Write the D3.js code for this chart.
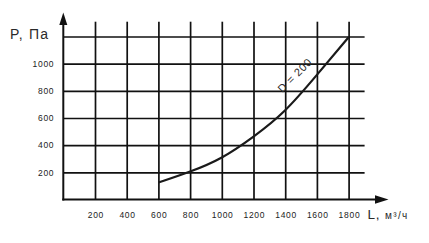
<!DOCTYPE html>
<html>
<head>
<meta charset="utf-8">
<script src="https://cdn.jsdelivr.net/npm/d3@7.9.0/dist/d3.min.js"></script>
<style>
  html, body { margin: 0; padding: 0; background: #fff; }
  svg { display: block; }
  .tick text { font-family: "Liberation Sans", Arial, sans-serif; font-size: 8.5px; fill: #222; letter-spacing: 0.7px; }
  .tick line { stroke: #111; stroke-width: 1.7; }
  .title { font-family: "Liberation Sans", Arial, sans-serif; fill: #2a2a2a; }
</style>
</head>
<body>
<svg id="chart" width="429" height="243"></svg>
<script>
// air flow L, m3/h  ->  pressure P, Pa  (D = 200 duct)
const flow = [600, 800, 1000, 1200, 1400, 1600, 1800];
const pressure = [125, 203, 299, 460, 642, 917, 1195];
const xTicks = [200, 400, 600, 800, 1000, 1200, 1400, 1600, 1800];
const yTicks = [200, 400, 600, 800, 1000, 1200];
const yLabels = [200, 400, 600, 800, 1000];

const svg = d3.select('#chart');

const x = d3.scaleLinear().domain([0, 1800]).range([63.3, 348.6]);
const y = d3.scaleLinear().domain([0, 1200]).range([199.5, 36.5]);

const gridTop = 21.7;
const gridRight = x(1800) + 16;

const xAxis = svg.append('g')
  .attr('transform', `translate(0,${y(0)})`)
  .call(d3.axisBottom(x)
    .tickValues(xTicks)
    .tickSize(-(y(0) - gridTop))
    .tickPadding(12)
    .tickFormat(d3.format('d')));

const yAxis = svg.append('g')
  .attr('transform', `translate(${x(0)},0)`)
  .call(d3.axisLeft(y)
    .tickValues(yTicks)
    .tickSize(-(gridRight - x(0)))
    .tickPadding(9)
    .tickFormat((d) => (yLabels.includes(d) ? String(d) : '')));

xAxis.select('.domain').remove();
yAxis.select('.domain').remove();
xAxis.selectAll('.tick text').attr('dx', '0.35px');

// axes with arrows
svg.append('line')
  .attr('x1', x(0)).attr('x2', x(0))
  .attr('y1', y(0) + 1).attr('y2', 20)
  .attr('stroke', '#111').attr('stroke-width', 2);
svg.append('path')
  .attr('d', `M${x(0)},12.5 L${x(0) - 4},25 L${x(0) + 4},25 Z`)
  .attr('fill', '#111');

svg.append('line')
  .attr('x1', x(0) - 1).attr('x2', 380)
  .attr('y1', y(0)).attr('y2', y(0))
  .attr('stroke', '#111').attr('stroke-width', 2);
svg.append('path')
  .attr('d', `M388.5,${y(0)} L375,${y(0) - 4.2} L375,${y(0) + 4.2} Z`)
  .attr('fill', '#111');

// curve
const line = d3.line()
  .x((d, i) => x(flow[i]))
  .y((d) => y(d))
  .curve(d3.curveBasis);

svg.append('path')
  .datum(pressure)
  .attr('d', line)
  .attr('fill', 'none')
  .attr('stroke', '#1a1a1a')
  .attr('stroke-width', 2.2);

svg.append('text')
  .attr('class', 'title')
  .attr('transform', 'translate(297.5,78) rotate(-45)')
  .attr('text-anchor', 'middle')
  .attr('font-size', 11)
  .attr('letter-spacing', 0.6)
  .attr('fill', '#2d3b3b')
  .text('D = 200');

// axis titles
svg.append('text')
  .attr('class', 'title')
  .attr('x', 10).attr('y', 39)
  .attr('font-size', 14)
  .attr('letter-spacing', 1.2)
  .text('P, Па');

const lTitle = svg.append('text')
  .attr('class', 'title')
  .attr('x', 367.5).attr('y', 218.5);
lTitle.append('tspan').attr('font-size', 13.5).attr('letter-spacing', 0.8).text('L, ');
lTitle.append('tspan').attr('font-size', 10).attr('letter-spacing', 1.4).text('м³/ч');
</script>
</body>
</html>
